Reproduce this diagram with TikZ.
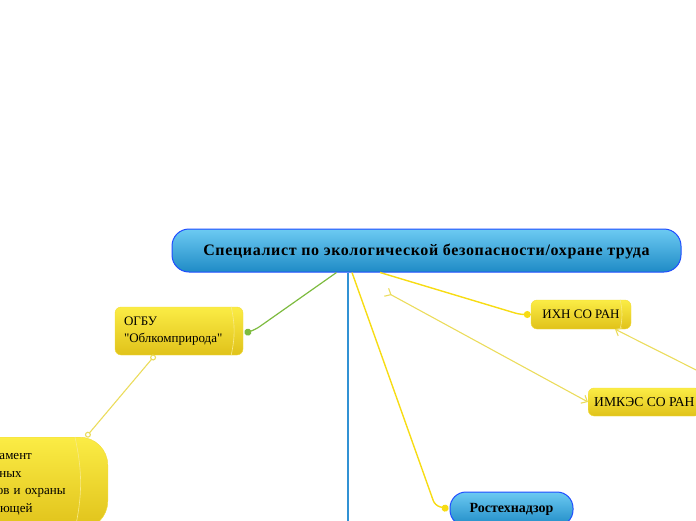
\documentclass[tikz,border=0pt]{standalone}
\usepackage{fontspec}
\setmainfont{Liberation Serif}[Ligatures=TeXOff]
\usetikzlibrary{positioning,arrows.meta,calc}

\definecolor{skytop}{HTML}{6CCAF2}
\definecolor{skybot}{HTML}{1F8BC6}
\definecolor{skyedge}{HTML}{1F4DFF}
\definecolor{lemontop}{HTML}{FBEC45}
\definecolor{lemonbot}{HTML}{E0C21A}
\definecolor{lemonedge}{HTML}{F2DC3A}
\definecolor{linegold}{HTML}{F7DC14}
\definecolor{linepale}{HTML}{EBDC5C}
\definecolor{linegreen}{HTML}{7DBB3F}
\definecolor{lineblue}{HTML}{3192D4}

\begin{document}
\begin{tikzpicture}[
    x=1pt,y=-1pt,
    topic/.style={draw=skyedge,line width=1pt,top color=skytop,bottom color=skybot,
      rounded corners=17pt,inner sep=0pt,font=\bfseries\fontsize{15}{18}\selectfont},
    sub/.style={draw=lemonedge,top color=lemontop,bottom color=lemonbot,
      rounded corners=6pt,inner sep=0pt,font=\fontsize{13}{17.5}\selectfont},
    cylend/.style={draw=lemonedge!60!white,line width=0.6pt},
    goldline/.style={draw=linegold,line width=1.4pt,rounded corners=5pt},
    paleline/.style={draw=linepale,line width=1.1pt},
    dot/.style={-{Circle[length=7pt]}},
    ring/.style={{Circle[open,length=6pt]}-{Circle[open,length=6pt]}},
    rel/.style={{Straight Barb[reversed,length=5pt,width=9pt]}-{Straight Barb[length=5pt,width=9pt]}},
    relend/.style={-{Straight Barb[length=5pt,width=9pt]}}
  ]
  \useasboundingbox (0,0) rectangle (696,520);
  \clip (0,0) rectangle (696,520);

  % main topic
  \node[topic,minimum width=509pt,minimum height=43pt,text depth=1pt,
        font=\bfseries\fontsize{16}{19}\selectfont\addfontfeatures{LetterSpace=4}] (spec) at (426.5,250.5)
        {Специалист\ по\ экологической\ безопасности/охране\ труда};

  % subtopics
  \node[sub,align=left,text width=110pt,inner xsep=9pt,minimum height=48pt] (ogbu) at (179,331)
        {ОГБУ\\"Облкомприрода"};
  \node[sub,rounded corners=28pt,align=left,text width=122pt,minimum width=174pt,
        minimum height=92pt,anchor=north east] (dept) at (108,437)
        {Департамент\\природных\\ресурсов и охраны\\окружающей};
  \node[sub,minimum width=100pt,minimum height=29pt] (ihn) at (581,314.5) {ИХН СО РАН};
  \node[sub,inner xsep=6pt,minimum height=28pt,anchor=west,
        font=\fontsize{13.6}{17.5}\selectfont] (imkes) at (588,402) {ИМКЭС СО РАН};
  \node[topic,rounded corners=16pt,minimum width=123pt,minimum height=34pt,
        font=\bfseries\fontsize{14}{17}\selectfont] (rtn) at (511.5,509) {Ростехнадзор};

  % cylinder ends
  \draw[cylend] ([xshift=-12pt]ogbu.north east) to[bend left=12] ([xshift=-12pt]ogbu.south east);
  \draw[cylend] ([xshift=-11pt]ihn.north east) to[bend left=12] ([xshift=-11pt]ihn.south east);
  \draw[cylend] ([xshift=-33pt]dept.north east) to[bend left=12] ([xshift=-33pt]dept.south east);

  % free ends
  \coordinate (down) at (348,600);
  \coordinate (relfrom) at (386,292);
  \coordinate (relfar) at (730,387);

  % connectors
  \draw[lineblue,line width=1.6pt] ([xshift=-78.5pt]spec.south) -- (down);
  \draw[goldline,draw=linegreen,line width=1.2pt,dot,linegreen]
    ([xshift=-90pt]spec.south) -- ++(-81,57) -- ([xshift=8pt]ogbu.east);
  \draw[goldline,dot,linegold] ([xshift=-46.5pt]spec.south) -- ++(140,42) -- (ihn.west);
  \draw[goldline,dot,linegold] ([xshift=-74.5pt]spec.south) -- ++(83,233) -- ([xshift=-1pt]rtn.west);
  \draw[paleline,ring] ([xshift=-24pt]ogbu.south) -- ([xshift=-22pt]dept.north east);
  \draw[paleline,rel] (relfrom) -- (imkes.west);
  \draw[paleline,relend] (relfar) -- ([xshift=34pt]ihn.south);
\end{tikzpicture}
\end{document}
